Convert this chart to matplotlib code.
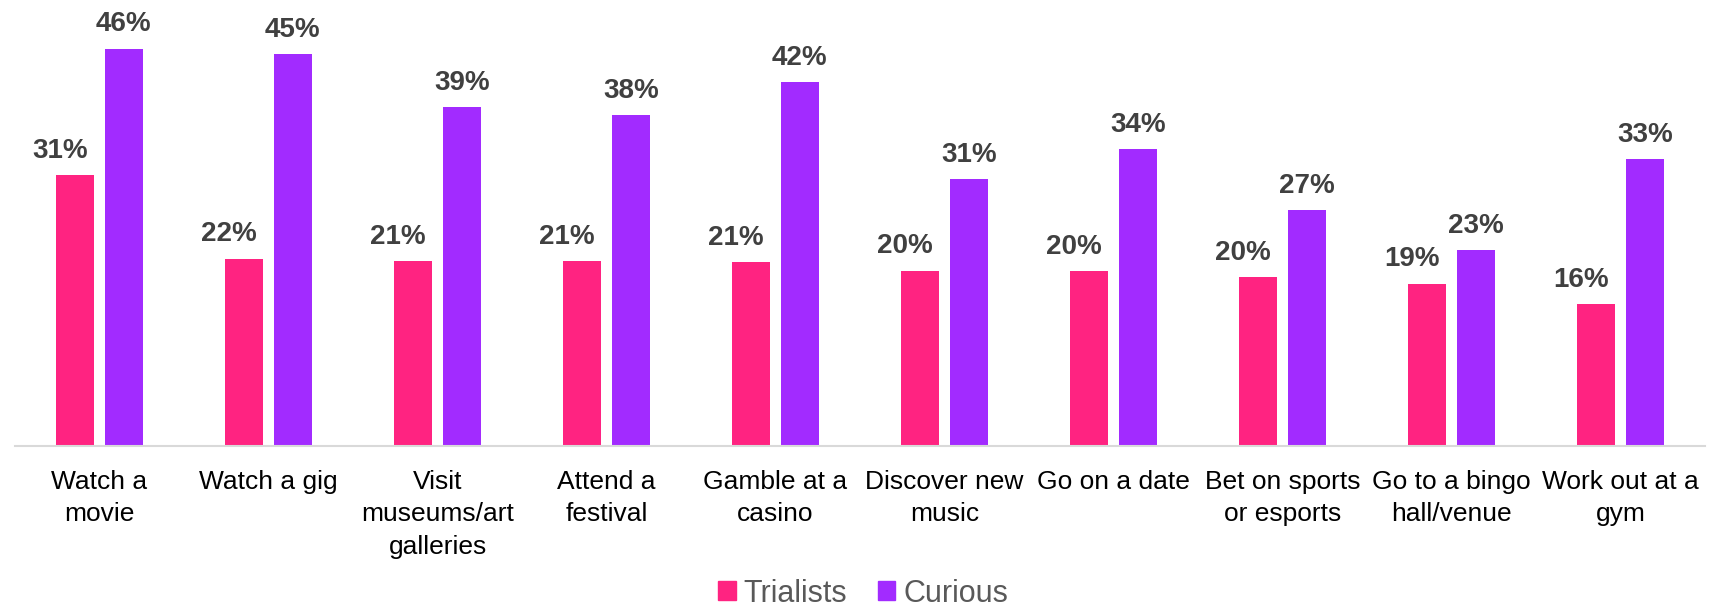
"""Grouped bar chart: activities people would try, Trialists vs Curious."""

import matplotlib
matplotlib.use("Agg")
import matplotlib.pyplot as plt
import numpy as np
from matplotlib.patches import Patch

categories = [
    "Watch a\nmovie", "Watch a gig", "Visit\nmuseums/art\ngalleries",
    "Attend a\nfestival", "Gamble at a\ncasino", "Discover new\nmusic",
    "Go on a date", "Bet on sports\nor esports", "Go to a bingo\nhall/venue",
    "Work out at a\ngym",
]
trialists = [31.4, 21.7, 21.4, 21.4, 21.3, 20.3, 20.2, 19.6, 18.8, 16.4]
curious = [46.0, 45.4, 39.2, 38.3, 42.1, 30.9, 34.4, 27.3, 22.7, 33.2]
series_names = ["Trialists", "Curious"]

PINK = "#FF2381"
PURPLE = "#A22BFF"

plt.rcParams["font.family"] = ["Liberation Sans", "DejaVu Sans"]

fig = plt.figure(figsize=(17.26, 6.09), dpi=100)
ax = fig.add_axes([15 / 1726, 163 / 609, 1690 / 1726, 432 / 609])

x = np.arange(len(categories))
w = 0.225
off = 0.144
b1 = ax.bar(x - off, trialists, w, color=PINK)
b2 = ax.bar(x + off, curious, w, color=PURPLE)

# value labels; the trialist ones sit a little left of their bar, as in the source
for bars, vals, dx in ((b1, trialists, -0.09), (b2, curious, 0.0)):
    for rect, v in zip(bars, vals):
        ax.annotate(f"{v:.0f}%", (rect.get_x() + rect.get_width() / 2 + dx, v),
                    xytext=(0, 8), textcoords="offset points",
                    ha="center", va="bottom", fontsize=20, fontweight="bold",
                    color="#404040")

ax.set_xlim(-0.5, len(categories) - 0.5)
ax.set_ylim(0, 50)
ax.set_xticks(x)
ax.set_xticklabels(categories, fontsize=19, color="black", linespacing=1.45)
ax.tick_params(axis="x", length=0, pad=17)
ax.set_yticks([])
for side in ("top", "right", "left"):
    ax.spines[side].set_visible(False)
ax.spines["bottom"].set_color("#D9D9D9")
ax.spines["bottom"].set_linewidth(1.5)

handles = [Patch(color=PINK), Patch(color=PURPLE)]
fig.legend(handles, series_names, loc="center", bbox_to_anchor=(0.5, 0.025),
           ncol=2, frameon=False, fontsize=22, labelcolor="#595959",
           handlelength=0.58, handleheight=0.58, handletextpad=0.25,
           columnspacing=1.0)

fig.savefig("out.png", dpi=100)
